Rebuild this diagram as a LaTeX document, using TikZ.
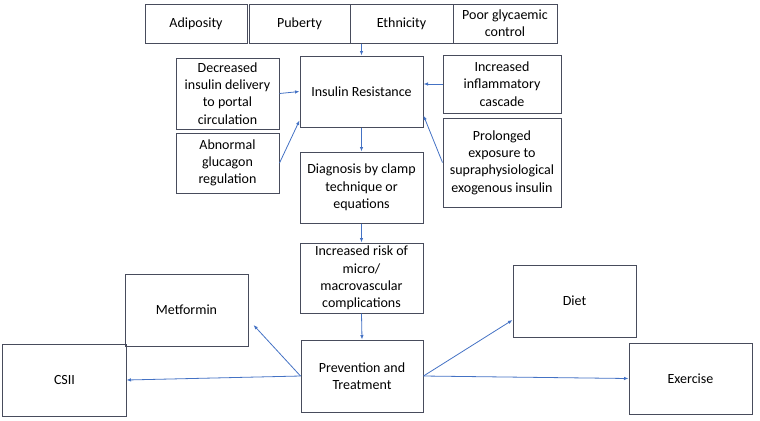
\documentclass[tikz,border=0pt]{standalone}
\usepackage{fontspec}
\setmainfont{Carlito}
\usetikzlibrary{arrows.meta}
\definecolor{boxgray}{RGB}{72,76,92}
\definecolor{arrblue}{RGB}{68,114,196}

\begin{document}
\begin{tikzpicture}[
  x=1bp, y=-1bp,
  box/.style={draw=boxgray, line width=1bp, align=center, inner sep=1pt,
              font=\fontsize{14bp}{17.3bp}\selectfont},
  barr/.style={-{Latex[length=4.5bp,width=3.5bp]}, line width=0.8bp, arrblue}
]
\useasboundingbox (0,0) rectangle (760,420);

%% Risk factors (top row)
\foreach \x/\w/\lab/\nm in {196/102/Adiposity/adip, 299.5/101/Puberty/pub,
    401.5/103/Ethnicity/eth, 505/104/{Poor glycaemic\\control}/poor}{
  \node[box, minimum width=\w bp, minimum height=39bp](\nm) at (\x,23.5) {\lab};
}
\draw[boxgray, line width=1bp] (247,4) -- (247,43);

%% Central column
\node[box, minimum width=123bp, minimum height=71bp](ir) at (361.5,91.5) {Insulin Resistance};
\node[box, minimum width=123bp, minimum height=71bp](diag) at (361.5,187.5)
  {Diagnosis by clamp\\technique or\\equations};
\node[box, minimum width=123bp, minimum height=70bp](risk) at (361.5,278)
  {Increased risk of\\micro/\\macrovascular\\complications};
\node[box, minimum width=122bp, minimum height=72bp](prev) at (362,376)
  {Prevention and\\Treatment};

%% Contributing factors
\node[box, minimum width=103bp, minimum height=71bp](deliv) at (227.5,93.5)
  {Decreased\\insulin delivery\\to portal\\circulation};
\node[box, minimum width=103bp, minimum height=60bp](gluc) at (227.5,163)
  {Abnormal\\glucagon\\regulation};
\node[box, minimum width=118bp, minimum height=58bp](infl) at (502,84)
  {Increased\\inflammatory\\cascade};
\node[box, minimum width=118bp, minimum height=89bp](expo) at (502,162.5)
  {Prolonged\\exposure to\\supraphysiological\\exogenous insulin};

%% Treatment options
\node[box, minimum width=123bp, minimum height=72bp](metf) at (186.5,310) {Metformin};
\node[box, minimum width=123bp, minimum height=72bp](csii) at (64.5,380) {CSII};
\node[box, minimum width=123bp, minimum height=72bp](diet) at (574.5,301) {Diet};
\node[box, minimum width=123bp, minimum height=71bp](exer) at (690.5,378.5) {Exercise};

%% Arrows
\draw[barr] (ir.north |- eth.south) -- (ir.north);
\draw[barr] (deliv.east) -- (ir.west);
\draw[barr] (gluc.east) -- ([yshift=7bp]ir.south west);
\draw[barr] (infl.west) -- (infl.west -| ir.east);
\draw[barr] (expo.west) -- ([yshift=12bp]ir.south east);
\draw[barr] (ir.south) -- (diag.north);
\draw[barr] (diag.south) -- (risk.north);
\draw[barr] (risk.south) -- (prev.north);
\draw[barr] (prev.west) -- ([xshift=5bp,yshift=-15bp]metf.east);
\draw[barr] (prev.west) -- (csii.east);
\draw[barr] (prev.east) -- ([yshift=-19bp]diet.west);
\draw[barr] (prev.east) -- (exer.west);
\end{tikzpicture}
\end{document}
